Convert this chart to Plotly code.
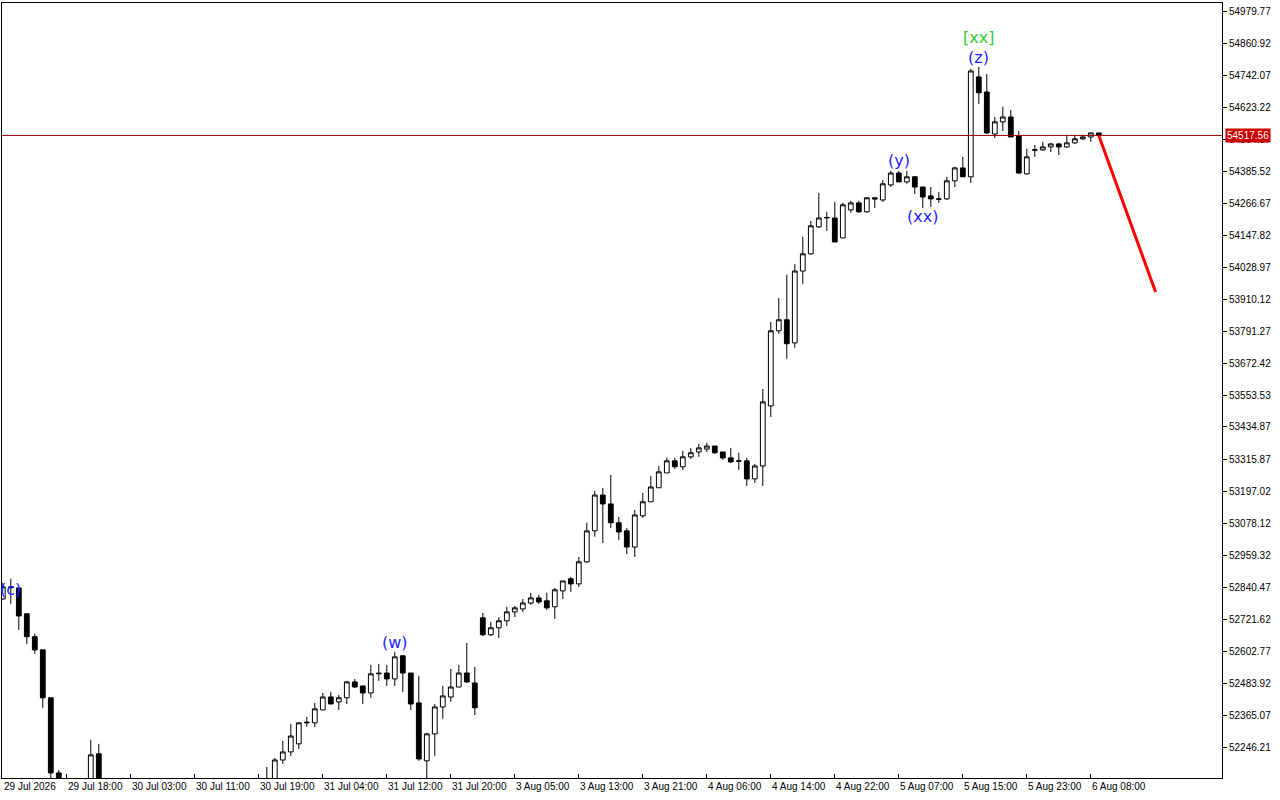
import plotly.graph_objects as go

opens = [52796,52841,52837,52741,52656,52607,52429,52150,52010,51980,52020,52090,52221,
52040,52010,51970,51990,52020,52000,51960,51930,51950,51990,52030,52050,52020,52040,52070,52050,52030,52060,52080,52090,
52100,52120,52198,52228,52258,52336,52336,52384,52432,52414,52429,52488,52473,52447,52518,52521,52499,52585,52521,52410,
52195,52295,52395,52432,52469,52521,52484,52726,52663,52689,52715,52748,52759,52781,52800,52789,52767,52826,52871,52852,
52934,53049,53182,53149,53079,53049,52989,53105,53157,53209,53264,53309,53287,53324,53342,53353,53364,53342,53320,53309,
53309,53242,53290,53513,53792,53833,53747,54014,54078,54178,54211,54211,54137,54241,54267,54234,54286,54278,54334,54378,
54345,54364,54326,54293,54282,54282,54349,54397,54364,54735,54679,54523,54568,54586,54516,54375,54464,54464,54475,54486,
54475,54490,54505,54512,54527]
highs = [52856,52871,52837,52741,52667,52607,52429,52161,52060,52040,52100,52273,52258,
52090,52050,52020,52040,52060,52030,52000,51980,52010,52050,52080,52090,52060,52100,52110,52080,52070,52100,52110,52120,
52172,52205,52269,52332,52339,52358,52410,52447,52451,52440,52492,52499,52473,52551,52555,52551,52599,52585,52521,52510,
52299,52406,52473,52536,52551,52633,52544,52744,52711,52729,52767,52770,52796,52819,52811,52819,52837,52863,52878,52952,
53079,53197,53208,53257,53101,53060,53127,53190,53253,53290,53320,53320,53346,53357,53372,53376,53364,53342,53357,53339,
53320,53298,53576,53825,53914,54000,54040,54141,54200,54304,54234,54271,54267,54275,54275,54289,54286,54352,54386,54386,
54386,54367,54326,54326,54308,54364,54401,54438,54765,54772,54746,54586,54624,54612,54534,54468,54482,54494,54490,54490,
54520,54520,54520,54527,54527]
lows = [52793,52778,52681,52629,52592,52392,52106,51980,51940,51920,51990,52060,52000,
51980,51950,51930,51960,51980,51940,51900,51890,51920,51970,52000,52010,51980,52020,52030,52000,51990,52040,52050,52060,
52070,52110,52183,52213,52239,52321,52321,52384,52406,52384,52406,52466,52406,52429,52492,52473,52473,52451,52384,52195,
52124,52213,52351,52414,52469,52484,52365,52659,52659,52651,52696,52729,52748,52774,52778,52755,52722,52796,52822,52841,
52930,53027,53004,53060,53015,52963,52952,53097,53157,53209,53264,53279,53275,53316,53324,53342,53335,53313,53302,53275,
53216,53227,53216,53472,53781,53688,53729,53966,54074,54174,54163,54122,54137,54230,54230,54230,54248,54271,54326,54345,
54338,54300,54248,54252,54267,54278,54326,54364,54341,54635,54523,54508,54534,54512,54375,54371,54438,54460,54456,54445,
54471,54486,54501,54494,54517.56]
closes = [52841,52838,52733,52656,52607,52429,52150,52010,51980,52020,52080,52217,52040,
52010,51970,51990,52020,52000,51960,51930,51950,51990,52030,52050,52020,52040,52070,52050,52030,52060,52080,52090,52100,
52120,52198,52228,52287,52336,52338,52388,52432,52406,52429,52488,52469,52447,52518,52520,52499,52581,52521,52406,52202,
52295,52395,52436,52469,52521,52488,52392,52663,52689,52715,52748,52763,52781,52800,52785,52763,52830,52863,52852,52934,
53049,53182,53149,53079,53045,52989,53108,53157,53212,53268,53309,53287,53324,53339,53357,53364,53339,53320,53305,53308,
53242,53290,53528,53792,53833,53744,54014,54078,54182,54211,54213,54122,54260,54267,54234,54286,54282,54338,54378,54345,
54364,54326,54289,54282,54281,54349,54397,54364,54757,54676,54527,54568,54586,54512,54378,54438,54463,54475,54486,54475,
54490,54505,54512,54527,54517.56]

time_labels = ["29 Jul 2026","29 Jul 18:00","30 Jul 03:00","30 Jul 11:00","30 Jul 19:00","31 Jul 04:00",
"31 Jul 12:00","31 Jul 20:00","3 Aug 05:00","3 Aug 13:00","3 Aug 21:00","4 Aug 06:00","4 Aug 14:00",
"4 Aug 22:00","5 Aug 07:00","5 Aug 15:00","5 Aug 23:00","6 Aug 08:00"]
label_step = 8

price_ticks = [52246.21,52365.07,52483.92,52602.77,52721.62,52840.47,52959.32,53078.12,53197.02,53315.87,
53434.87,53553.53,53672.42,53791.27,53910.12,54028.97,54147.82,54266.67,54385.52,54504.37,54623.22,
54742.07,54860.92,54979.77]
current_price = 54517.56
forecast_x = [137, 144.1]
forecast_y = [54517.56, 53936]

wave_labels = [("(c)", 0.9, 52833, "#1f1fff"), ("(w)", 49, 52633, "#1f1fff"), ("(y)", 112, 54423, "#1f1fff"),
               ("(xx)", 115, 54215, "#1f1fff"), ("(z)", 122, 54806, "#1f1fff"), ("[xx]", 122, 54880, "#33cc33")]

idx = list(range(len(opens)))

fig = go.Figure()
fig.add_trace(go.Candlestick(x=idx, open=opens, high=highs, low=lows, close=closes,
    increasing=dict(line=dict(color="black", width=1), fillcolor="white"),
    decreasing=dict(line=dict(color="black", width=1), fillcolor="black"),
    whiskerwidth=0, showlegend=False, hoverinfo="skip"))
fig.add_trace(go.Scatter(x=forecast_x, y=forecast_y, mode="lines",
    line=dict(color="#ff0000", width=3), showlegend=False, hoverinfo="skip"))
fig.add_shape(type="line", xref="paper", x0=0, x1=1, yref="y", y0=current_price, y1=current_price,
    line=dict(color="#a00000", width=1))

ann = []
for t, x, y, c in wave_labels:
    ann.append(dict(x=x, y=y, xref="x", yref="y", text=t, showarrow=False,
        font=dict(family="DejaVu Sans", size=16, color=c)))
for k, t in enumerate(time_labels):
    ann.append(dict(x=k*label_step, y=0, xref="x", yref="paper", yanchor="top", xanchor="left",
        text=t, showarrow=False, xshift=-1, yshift=-1, font=dict(family="Liberation Sans", size=10, color="black")))
ann.append(dict(x=1, y=current_price, xref="paper", yref="y", xanchor="left", text=f"{current_price:.2f}",
    showarrow=False, bgcolor="#cc0000", font=dict(family="Liberation Sans", size=10, color="white"),
    borderpad=1, xshift=3))

fig.update_layout(width=1280, height=800, margin=dict(l=2, r=58, t=3, b=22, autoexpand=False),
    paper_bgcolor="white", plot_bgcolor="white", annotations=ann, boxgap=0.15,
    xaxis=dict(range=[-0.1, 152.4], rangeslider=dict(visible=False), showgrid=False, zeroline=False,
        tickvals=[k*label_step for k in range(len(time_labels))], ticktext=[""]*len(time_labels),
        ticks="inside", ticklen=4, tickcolor="black", showline=True, linecolor="black", mirror=True,
        automargin=False),
    yaxis=dict(range=[52131.1, 55009.5], side="right", showgrid=False, zeroline=False, automargin=False,
        tickvals=price_ticks, ticktext=[f"{v:.2f}" for v in price_ticks], ticks="outside", ticklen=4,
        tickcolor="black", showline=True, linecolor="black", mirror=True,
        tickfont=dict(family="Liberation Sans", size=10, color="black")))
fig.write_html("out.html", config={"displayModeBar": False},
               post_script="document.body.style.margin='0';document.body.style.overflow='hidden';")
